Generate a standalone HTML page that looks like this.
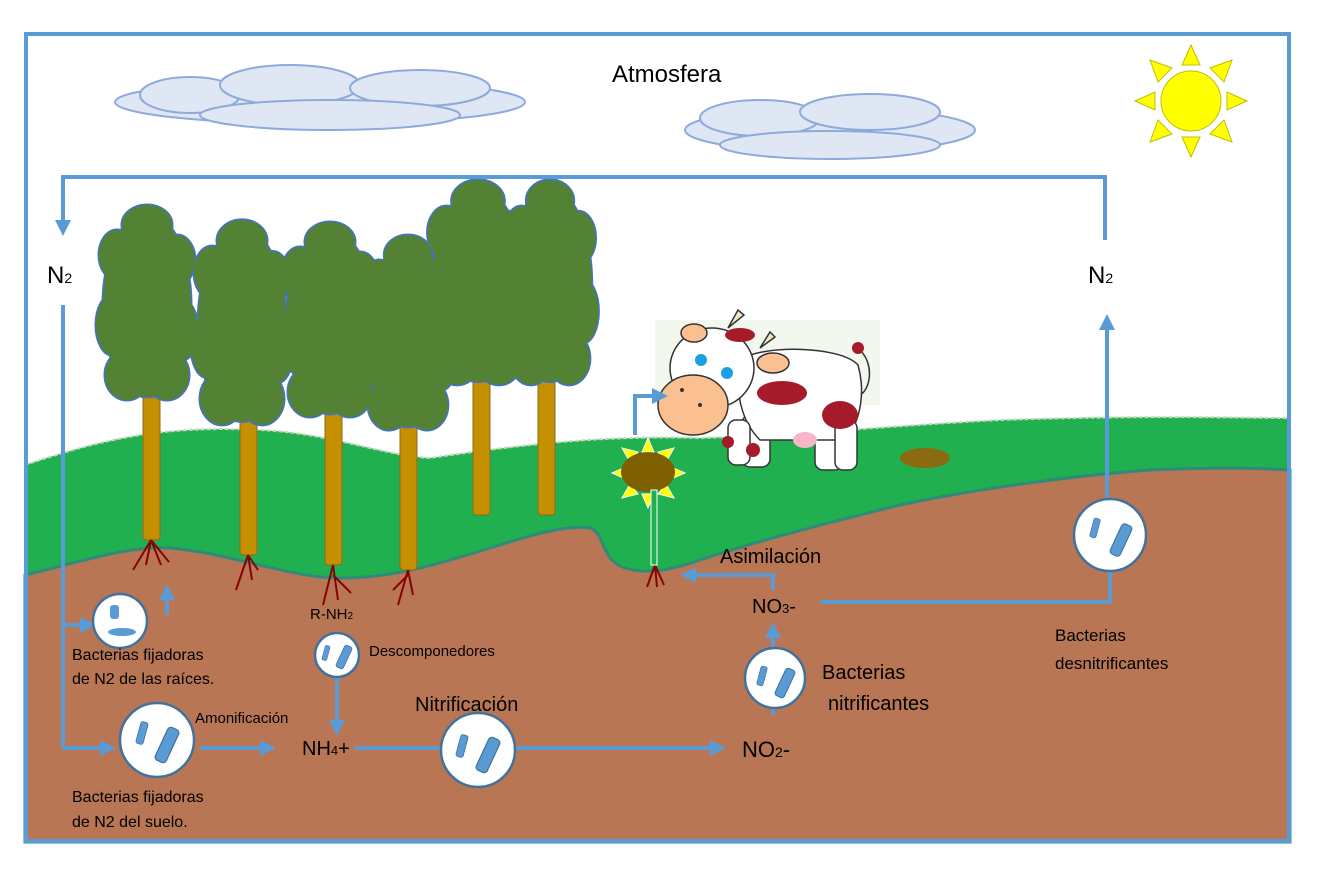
<!DOCTYPE html>
<html><head><meta charset="utf-8"><style>
body{margin:0;background:#fff}
svg{display:block;font-family:"Liberation Sans",sans-serif}
</style></head><body>
<svg width="1327" height="879" viewBox="0 0 1327 879" xmlns="http://www.w3.org/2000/svg">
<defs>
<marker id="a" markerWidth="4" markerHeight="4" refX="2" refY="2" orient="auto"><path d="M0,0 L4,2 L0,4 z" fill="#5b9bd5"/></marker>
<g id="rod"><rect x="-5" y="-15" width="10" height="30" rx="3" fill="#5b9bd5" stroke="#41719c" stroke-width="1"/></g>
<g id="can"><ellipse cx="0" cy="0" rx="44" ry="92"/><ellipse cx="-30" cy="-50" rx="18" ry="25"/><ellipse cx="30" cy="-45" rx="18" ry="25"/><ellipse cx="-35" cy="20" rx="16" ry="30"/><ellipse cx="35" cy="25" rx="16" ry="30"/><ellipse cx="0" cy="-80" rx="25" ry="20"/><ellipse cx="-20" cy="70" rx="22" ry="25"/><ellipse cx="20" cy="70" rx="22" ry="25"/></g>
<g id="trees">
<use href="#can" transform="translate(147,305)"/>
<use href="#can" transform="translate(242,325) scale(1,1.05)"/>
<use href="#can" transform="translate(330,322)"/>
<use href="#can" transform="translate(408,335) scale(0.95,1)"/>
<use href="#can" transform="translate(478,285) scale(1.05,1.05)"/>
<use href="#can" transform="translate(550,285) scale(0.95,1.05)"/>
</g>
</defs>
<rect width="1327" height="879" fill="#fff"/>
<g fill="#dfe7f5" stroke="#8eaadb" stroke-width="2">
<ellipse cx="320" cy="102" rx="205" ry="22"/>
<ellipse cx="190" cy="95" rx="50" ry="18"/><ellipse cx="290" cy="85" rx="70" ry="20"/><ellipse cx="420" cy="88" rx="70" ry="18"/><ellipse cx="330" cy="115" rx="130" ry="15"/>
<ellipse cx="830" cy="130" rx="145" ry="22"/>
<ellipse cx="760" cy="118" rx="60" ry="18"/><ellipse cx="870" cy="112" rx="70" ry="18"/><ellipse cx="830" cy="145" rx="110" ry="14"/>
</g>
<text x="612" y="82" font-size="24" fill="#000">Atmosfera</text>
<g fill="#ffff00" stroke="#bfbf00" stroke-width="1">
<circle cx="1191" cy="101" r="30"/>
<path d="M1191,45 l-9,20 h18z M1191,157 l-9,-20 h18z M1135,101 l20,-9 v18z M1247,101 l-20,-9 v18z M1150,60 l22,8 -14,14z M1232,60 l-22,8 14,14z M1150,142 l22,-8 -14,-14z M1232,142 l-22,-8 14,-14z"/>
</g>
<path d="M25,465 C100,440 160,425 260,430 C330,433 380,455 430,458 C520,445 600,435 700,438 C800,435 900,425 1000,420 C1150,415 1240,418 1290,418 L1290,842 L25,842Z" fill="#21b04f" stroke="#c8d8c0" stroke-width="2" stroke-dasharray="4 2"/>
<path d="M25,575 C80,562 130,545 170,548 C230,553 290,578 340,578 C400,578 450,560 500,545 C540,532 570,525 590,528 C605,532 600,560 625,568 C645,574 665,572 700,560 C760,540 820,525 900,505 C980,488 1080,475 1150,470 C1220,467 1260,468 1290,470 L1290,842 L25,842Z" fill="#b87654" stroke="#2e8b7a" stroke-width="3"/>
<g fill="#c49000" stroke="#8a6a20" stroke-width="1">
<rect x="143" y="380" width="17" height="160" rx="3"/>
<rect x="240" y="390" width="17" height="165" rx="3"/>
<rect x="325" y="390" width="17" height="175" rx="3"/>
<rect x="400" y="400" width="17" height="170" rx="3"/>
<rect x="473" y="360" width="17" height="155" rx="3"/>
<rect x="538" y="360" width="17" height="155" rx="3"/>
</g>
<g fill="#548235" stroke="#4472c4" stroke-width="3"><use href="#trees"/></g>
<g fill="#548235" stroke="none"><use href="#trees"/></g>
<g stroke="#8b0000" stroke-width="2" fill="none">
<path d="M151,540 l-18,30 M151,540 l-5,25 M151,540 l10,25 M151,540 l18,22"/>
<path d="M248,555 l-12,35 M248,555 l4,25 M248,555 l10,15"/>
<path d="M333,565 l-10,40 M333,565 l5,35 M333,575 l18,18"/>
<path d="M408,570 l-10,35 M408,570 l5,25 M408,575 l-15,15"/>
<path d="M655,565 l-8,22 M655,565 l2,22 M655,565 l9,20"/>
</g>
<g fill="#ffff00" stroke="#fff" stroke-width="1">
<path d="M648,438 l-6,14 h12z M648,508 l-6,-14 h12z M612,473 l14,-6 v12z M685,473 l-14,-6 v12z M622,448 l16,4 -8,10z M674,448 l-16,4 8,10z M622,498 l16,-4 -8,-10z M674,498 l-16,-4 8,-10z"/>
</g>
<ellipse cx="648" cy="472" rx="27" ry="20" fill="#7f6000"/>
<rect x="651" y="490" width="6" height="75" fill="#21b04f" stroke="#fff" stroke-width="1"/>
<ellipse cx="925" cy="458" rx="25" ry="10" fill="#8b6a10"/>
<rect x="655" y="320" width="225" height="85" fill="#e8f2e0" opacity="0.5"/>
<g stroke="#333" stroke-width="1.5">
<path d="M860,350 C875,365 870,390 860,395" fill="none"/>
<rect x="742" y="415" width="28" height="52" rx="8" fill="#fff"/>
<rect x="815" y="415" width="28" height="55" rx="8" fill="#fff"/>
<path d="M740,360 C760,345 840,345 858,365 C865,390 862,420 845,440 L760,440 C740,420 735,390 740,360Z" fill="#fff"/>
<rect x="728" y="420" width="22" height="45" rx="8" fill="#fff"/>
<rect x="835" y="420" width="22" height="50" rx="8" fill="#fff"/>
<ellipse cx="712" cy="368" rx="42" ry="40" fill="#fff"/>
<path d="M728,328 l10,-18 l6,5 z M760,348 l10,-16 l5,5 z" fill="#f2e8c0"/>
<ellipse cx="693" cy="405" rx="35" ry="30" fill="#fbc08f"/>
<ellipse cx="694" cy="333" rx="13" ry="9" fill="#fbc08f"/>
<ellipse cx="773" cy="363" rx="16" ry="10" fill="#fbc08f"/>
</g>
<g fill="#a61b29">
<ellipse cx="740" cy="335" rx="15" ry="7"/><ellipse cx="782" cy="393" rx="25" ry="12"/><ellipse cx="840" cy="415" rx="18" ry="14"/><circle cx="858" cy="348" r="6"/><circle cx="753" cy="450" r="7"/><circle cx="728" cy="442" r="6"/>
</g>
<circle cx="701" cy="360" r="6" fill="#1ba1e2"/><circle cx="727" cy="373" r="6" fill="#1ba1e2"/>
<circle cx="682" cy="390" r="2" fill="#333"/><circle cx="700" cy="405" r="2" fill="#333"/>
<ellipse cx="805" cy="440" rx="12" ry="8" fill="#f7b6c8"/>
<g stroke="#5b9bd5" stroke-width="4" fill="none">
<polyline points="1105,240 1105,177 63,177 63,228" marker-end="url(#a)"/>
<line x1="63" y1="305" x2="63" y2="748"/>
<line x1="63" y1="625" x2="88" y2="625" marker-end="url(#a)"/>
<line x1="63" y1="748" x2="108" y2="748" marker-end="url(#a)"/>
<line x1="167" y1="615" x2="167" y2="592" marker-end="url(#a)"/>
<line x1="337" y1="678" x2="337" y2="728" marker-end="url(#a)"/>
<line x1="200" y1="748" x2="268" y2="748" marker-end="url(#a)"/>
<line x1="355" y1="748" x2="718" y2="748" marker-end="url(#a)"/>
<line x1="773" y1="715" x2="773" y2="630" marker-end="url(#a)"/>
<polyline points="773,590 773,575 688,575" marker-end="url(#a)"/>
<polyline points="820,602 1110,602 1110,568"/>
<line x1="1107" y1="500" x2="1107" y2="322" marker-end="url(#a)"/>
<polyline points="635,435 635,396 660,396" marker-end="url(#a)"/>
</g>
<g fill="#fff" stroke="#41719c" stroke-width="2.5">
<circle cx="120" cy="621" r="27"/><circle cx="157" cy="740" r="37"/><circle cx="337" cy="655" r="22"/>
<circle cx="478" cy="750" r="37"/><circle cx="775" cy="678" r="30"/><circle cx="1110" cy="535" r="36"/>
</g>
<rect x="110" y="605" width="9" height="14" rx="3" fill="#5b9bd5"/>
<ellipse cx="122" cy="632" rx="14" ry="4" fill="#5b9bd5"/>
<g>
<use href="#rod" transform="translate(142,733) rotate(15) scale(0.75)"/><use href="#rod" transform="translate(167,745) rotate(25) scale(1.2)"/>
<use href="#rod" transform="translate(462,746) rotate(15) scale(0.75)"/><use href="#rod" transform="translate(488,755) rotate(25) scale(1.2)"/>
<use href="#rod" transform="translate(326,653) rotate(15) scale(0.5)"/><use href="#rod" transform="translate(344,657) rotate(25) scale(0.8)"/>
<use href="#rod" transform="translate(762,676) rotate(15) scale(0.65)"/><use href="#rod" transform="translate(785,683) rotate(25) scale(1)"/>
<use href="#rod" transform="translate(1095,528) rotate(15) scale(0.65)"/><use href="#rod" transform="translate(1121,540) rotate(25) scale(1.1)"/>
</g>
<g fill="#000">
<text x="47" y="283" font-size="24">N<tspan font-size="14">2</tspan></text>
<text x="1088" y="283" font-size="24">N<tspan font-size="14">2</tspan></text>
<text x="72" y="660" font-size="16">Bacterias fijadoras</text>
<text x="72" y="684" font-size="16">de N2 de las raíces.</text>
<text x="72" y="802" font-size="16">Bacterias fijadoras</text>
<text x="72" y="827" font-size="16">de N2 del suelo.</text>
<text x="195" y="723" font-size="15">Amonificación</text>
<text x="310" y="619" font-size="15">R-NH<tspan font-size="10">2</tspan></text>
<text x="369" y="656" font-size="15">Descomponedores</text>
<text x="302" y="755" font-size="20">NH<tspan font-size="13">4</tspan>+</text>
<text x="415" y="711" font-size="20">Nitrificación</text>
<text x="742" y="757" font-size="22">NO<tspan font-size="14">2</tspan>-</text>
<text x="822" y="679" font-size="20">Bacterias</text>
<text x="828" y="710" font-size="20">nitrificantes</text>
<text x="752" y="613" font-size="20">NO<tspan font-size="13">3</tspan>-</text>
<text x="720" y="563" font-size="20">Asimilación</text>
<text x="1055" y="641" font-size="17">Bacterias</text>
<text x="1055" y="669" font-size="17">desnitrificantes</text>
</g>
<rect x="26" y="34" width="1263" height="807" fill="none" stroke="#5b9bd5" stroke-width="4"/>
</svg>
</body></html>
